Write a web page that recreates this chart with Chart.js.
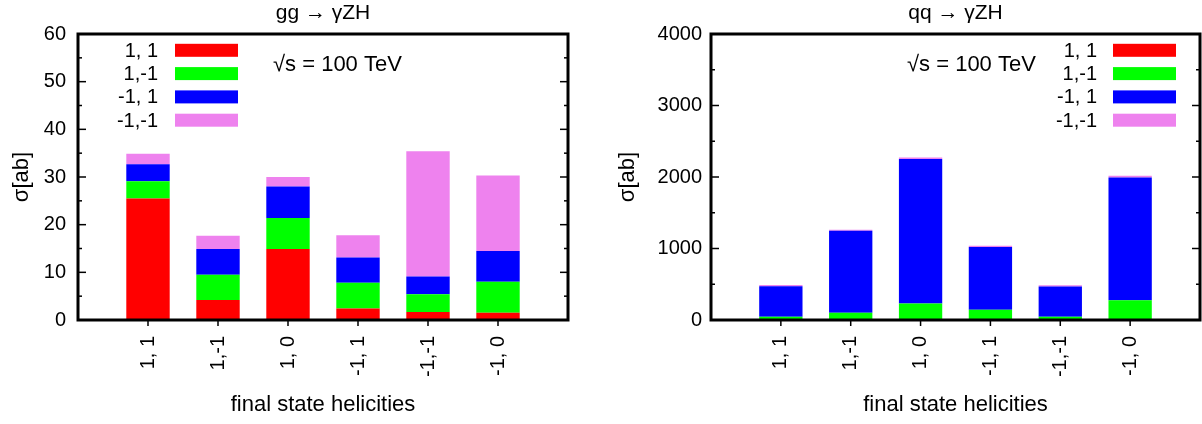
<!DOCTYPE html>
<html><head><meta charset="utf-8">
<script src="https://cdn.jsdelivr.net/npm/chart.js@4.4.1/dist/chart.umd.min.js"></script>
<style>
html,body{margin:0;padding:0;background:#fff;}
#wrap{position:relative;width:1202px;height:424px;overflow:hidden;}
canvas{position:absolute;top:0;}
#ca{left:0;} #cb{left:600px;}
</style></head><body>
<div id="wrap"><canvas id="ca" width="600" height="424"></canvas><canvas id="cb" width="602" height="424"></canvas></div>
<script>
// ---- data ----
const categories = ['1, 1', '1,-1', '1, 0', '-1, 1', '-1,-1', '-1, 0'];
const seriesLabels = ['1, 1', '1,-1', '-1, 1', '-1,-1'];
const seriesColors = ['#ff0000', '#00ff00', '#0000ff', '#ee82ee'];

// gg -> gamma Z H  (sigma in ab)
const ggPP = [25.5, 4.2, 14.9, 2.4, 1.7, 1.5];
const ggPM = [3.6, 5.3, 6.5, 5.4, 3.7, 6.5];
const ggMP = [3.55, 5.4, 6.6, 5.3, 3.7, 6.5];
const ggMM = [2.25, 2.8, 2.0, 4.7, 26.3, 15.8];
const ggYTicks = [0, 10, 20, 30, 40, 50, 60];

// q qbar -> gamma Z H  (sigma in ab)
const qqPP = [1, 1, 2, 1, 1, 2];
const qqPM = [46, 102, 228, 144, 46, 275];
const qqMP = [424, 1145, 2023, 875, 420, 1716];
const qqMM = [18, 13, 19, 18, 20, 23];
const qqYTicks = [0, 1000, 2000, 3000, 4000];

const FONT = '"Liberation Sans", Arial, Helvetica, sans-serif';

function framePlugin(o) {
  return {
    id: 'frame' + o.id,
    afterDraw(chart) {
      const {ctx, chartArea: a, scales: {x, y}} = chart;
      ctx.save();
      ctx.strokeStyle = '#000';
      ctx.lineWidth = 1.5;
      const line = (x1, y1, x2, y2) => { ctx.beginPath(); ctx.moveTo(x1, y1); ctx.lineTo(x2, y2); ctx.stroke(); };
      const yMax = o.yTicks[o.yTicks.length - 1];
      const step = o.yTicks[1] - o.yTicks[0];
      for (let k = 0; k * step / 2 <= yMax + 1e-9; k++) {
        const v = k * step / 2;
        const py = y.getPixelForValue(v);
        const len = (k % 2 === 0) ? 8 : 4;
        line(a.left, py, a.left + len, py);
        line(a.right, py, a.right - len, py);
      }
      for (let i = 1; i <= categories.length; i++) {
        const px = x.getPixelForValue(i);
        line(px, a.bottom, px, a.bottom + 6);
      }
      ctx.lineWidth = 3;
      ctx.strokeRect(a.left, a.top, a.right - a.left, a.bottom - a.top);
      // title
      ctx.fillStyle = '#000';
      ctx.font = '21px ' + FONT;
      ctx.textAlign = 'center';
      ctx.textBaseline = 'alphabetic';
      ctx.fillText(o.title, (a.left + a.right) / 2, 18.5);
      // energy label
      ctx.font = '22px ' + FONT;
      ctx.textAlign = 'left';
      ctx.fillText('\u221As = 100 TeV', o.energyX, 70.5);
      // legend
      ctx.font = '20px ' + FONT;
      ctx.textAlign = 'right';
      ctx.textBaseline = 'middle';
      chart.data.datasets.forEach((ds, i) => {
        const cy = 50.3 + 23.3 * i;
        ctx.fillStyle = '#000';
        ctx.fillText(ds.label, o.legendTextX, cy + 1);
        ctx.fillStyle = ds.backgroundColor;
        ctx.fillRect(o.legendSwX, cy - 6.5, 63, 13);
      });
      ctx.restore();
    }
  };
}

function makeChart(o) {
  const labels = ['', ...categories, ''];
  const datasets = o.series.map((vals, i) => ({
    label: seriesLabels[i],
    data: [null, ...vals, null],
    backgroundColor: seriesColors[i],
    borderWidth: 0,
    barPercentage: 0.62,
    categoryPercentage: 1
  }));
  return new Chart(document.getElementById(o.id), {
    type: 'bar',
    data: {labels, datasets},
    options: {
      responsive: false,
      animation: false,
      layout: {padding: {top: 34, right: o.padRight, left: 0, bottom: 0}},
      plugins: {legend: {display: false}, tooltip: {enabled: false}, title: {display: false}},
      scales: {
        x: {
          stacked: true, offset: false,
          grid: {display: false, drawTicks: false}, border: {display: false},
          ticks: {autoSkip: false, minRotation: 90, maxRotation: 90, padding: 16, color: '#000', font: {family: FONT, size: 20}},
          title: {display: true, text: 'final state helicities', color: '#000', font: {family: FONT, size: 22}, padding: {top: 0, bottom: 6}},
          afterFit: s => { s.height = 104; s.paddingLeft = 0; s.paddingRight = 0; }
        },
        y: {
          stacked: true, min: 0, max: o.yTicks[o.yTicks.length - 1],
          grid: {display: false, drawTicks: false}, border: {display: false},
          afterBuildTicks: s => { s.ticks = o.yTicks.map(v => ({value: v})); },
          ticks: {padding: o.tickPad, color: '#000', font: {family: FONT, size: 20}, callback: v => String(v)},
          title: {display: true, text: '\u03C3[ab]', color: '#000', font: {family: FONT, size: 22}, padding: {top: o.titlePad, bottom: 0}},
          afterFit: s => { s.width = o.yWidth; }
        }
      }
    },
    plugins: [framePlugin(o)]
  });
}

makeChart({id: 'ca', series: [ggPP, ggPM, ggMP, ggMM], yTicks: ggYTicks, padRight: 32, yWidth: 78, tickPad: 12, titlePad: 9,
  title: 'gg \u2192 \u03B3ZH', energyX: 273, legendTextX: 158, legendSwX: 175});
makeChart({id: 'cb', series: [qqPP, qqPM, qqMP, qqMM], yTicks: qqYTicks, padRight: 2, yWidth: 111, tickPad: 9, titlePad: 15,
  title: 'qq \u2192 \u03B3ZH', energyX: 307, legendTextX: 497, legendSwX: 513});
</script>
</body></html>
